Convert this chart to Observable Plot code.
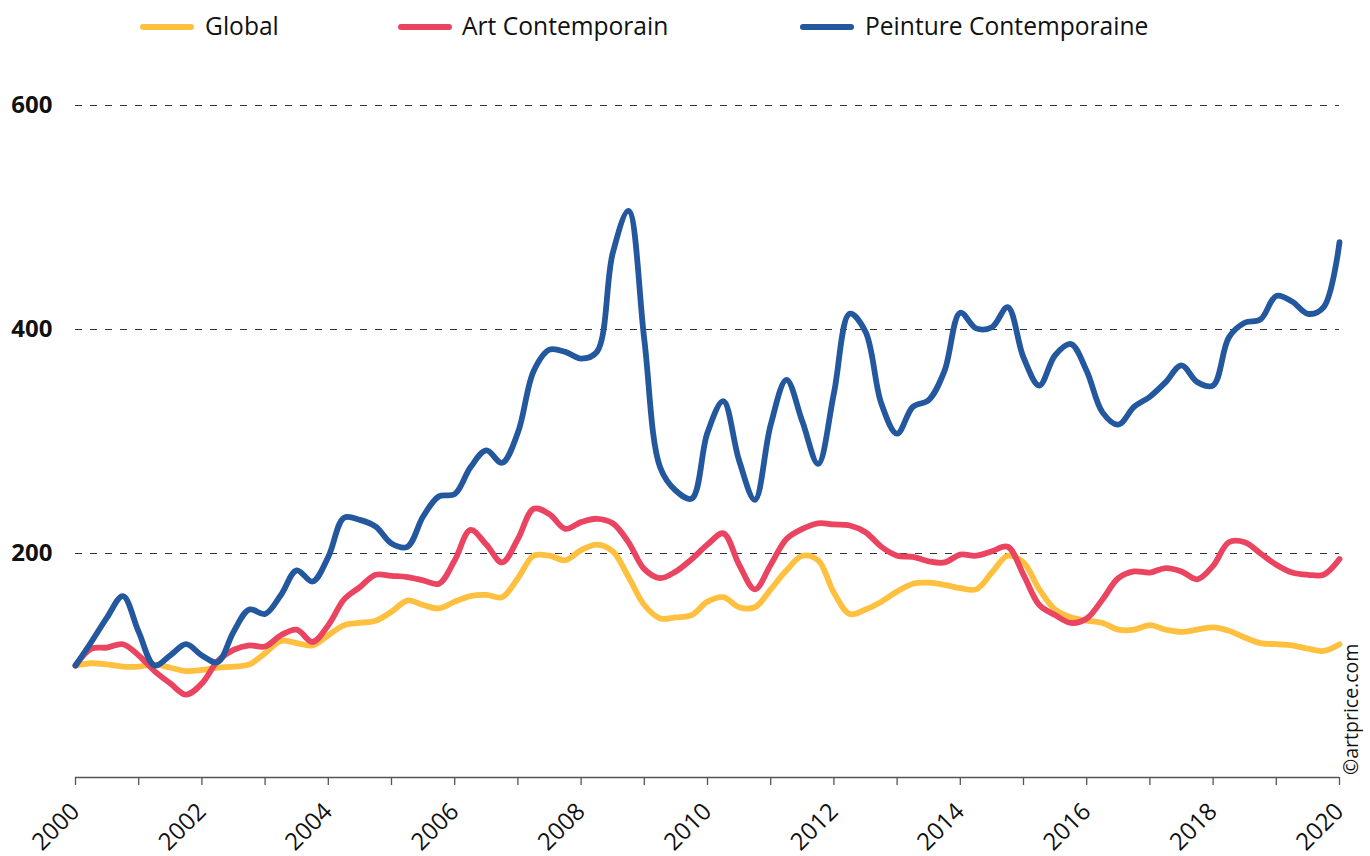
<!DOCTYPE html>
<html>
<head>
<meta charset="utf-8">
<script src="https://cdn.jsdelivr.net/npm/d3@7"></script>
<script src="https://cdn.jsdelivr.net/npm/@observablehq/plot@0.6"></script>
<style>
  html, body { margin: 0; padding: 0; background: #fff; }
  body { font-family: "Open Sans", sans-serif; width: 1370px; height: 856px; overflow: hidden; }
  #legend { position: relative; height: 55px; width: 1370px; }
  .sw { position: absolute; top: 24px; height: 6px; width: 54px; border-radius: 3px; }
  .lb { position: absolute; top: 12px; font-size: 24.6px; line-height: 28px; color: #111; white-space: nowrap; }
</style>
</head>
<body>
<div id="legend"></div>
<div id="chart"></div>
<script>
// ---- data (quarterly index values, base 100 = Q1 2000) ----
const seriesNames = ["Global", "Art Contemporain", "Peinture Contemporaine"];
const seriesColors = ["#FEC03E", "#EA4460", "#23579E"];

const globalIdx = [100,102,101,99,99,101,98,95,96,98,
  99,101,111,122,120,118,127,136,138,140,
  148,158,154,151,157,162,163,161,178,198,
  198,194,203,208,202,179,154,142,143,145,
  157,161,152,152,168,185,198,194,165,146,
  150,157,166,173,174,172,169,168,183,198,
  192,168,150,143,140,138,132,132,136,132,
  130,132,134,131,125,120,119,118,115,113,
  119];

const artContemporain = [100,115,116,119,109,95,84,74,84,104,
  114,118,117,127,132,121,136,159,170,181,
  180,179,176,173,194,221,208,192,213,240,
  235,222,228,231,227,210,186,178,184,195,
  208,218,190,168,190,213,222,227,226,225,
  219,206,198,197,193,192,199,198,202,206,
  181,154,145,138,142,159,178,184,183,187,
  184,177,189,210,210,200,190,183,181,181,
  195];

const peintureContemporaine = [100,121,143,162,130,100,109,119,109,103,
  130,150,146,163,185,175,197,232,230,224,
  209,206,233,251,253,277,292,281,308,363,
  382,380,374,380,468,506,391,277,256,249,
  308,336,283,248,315,355,318,280,343,414,
  398,334,307,331,337,363,415,401,402,420,
  375,350,377,387,363,326,315,331,340,353,
  368,353,350,393,406,409,430,425,414,420,
  478];

const startYear = 2000;
const endYear = 2020;
const tickYears = d3.range(2000, 2021);
const labelYears = d3.range(2000, 2021, 2);
const yTicks = [200, 400, 600];
const caption = "©artprice.com";

// ---- build table ----
const table = [];
[globalIdx, artContemporain, peintureContemporaine].forEach((arr, s) => {
  arr.forEach((v, i) => table.push({series: seriesNames[s], t: startYear + i / 4, v}));
});

// ---- legend ----
const legendPos = [[140, 205], [398, 462], [800, 865]];
const legend = document.getElementById("legend");
seriesNames.forEach((name, i) => {
  const sw = document.createElement("div");
  sw.className = "sw";
  sw.style.left = legendPos[i][0] + "px";
  sw.style.background = seriesColors[i];
  legend.appendChild(sw);
  const lb = document.createElement("div");
  lb.className = "lb";
  lb.style.left = legendPos[i][1] + "px";
  lb.textContent = name;
  legend.appendChild(lb);
});

// ---- chart ----
const chart = Plot.plot({
  width: 1370,
  height: 801,
  marginLeft: 75,
  marginRight: 31,
  marginTop: 50,
  marginBottom: 79,
  style: {fontFamily: "Open Sans, sans-serif", fontSize: "24px", color: "#111", background: "#fff", overflow: "visible"},
  x: {domain: [startYear, endYear], label: null},
  y: {domain: [0, 600], label: null},
  color: {domain: seriesNames, range: seriesColors},
  marks: [
    Plot.ruleY(yTicks, {stroke: "#333", strokeWidth: 1, strokeDasharray: "7,8"}),
    Plot.ruleY([0], {stroke: "#555", strokeWidth: 1.3}),
    Plot.axisX({ticks: tickYears, tickSize: 8, stroke: "#555", strokeWidth: 1.3, tickFormat: () => "", label: null}),
    Plot.axisX({ticks: labelYears, tickSize: 0, tickPadding: 30, tickRotate: -45, textAnchor: "end", lineAnchor: "middle", tickFormat: d => String(d), fontSize: 24, label: null}),
    Plot.axisY({ticks: yTicks, tickSize: 0, tickPadding: 23, fontWeight: "bold", fontSize: 24, tickFormat: d => String(d), label: null}),
    Plot.line(table, {x: "t", y: "v", z: "series", stroke: "series", strokeWidth: 5.8, curve: "catmull-rom", strokeLinecap: "round", strokeLinejoin: "round"})
  ]
});
document.getElementById("chart").appendChild(chart);

d3.select(chart).append("text")
  .attr("transform", "translate(1358,720) rotate(-90)")
  .attr("text-anchor", "start")
  .attr("font-size", 19.5)
  .attr("fill", "#111")
  .attr("font-family", "Open Sans, sans-serif")
  .text(caption);
</script>
</body>
</html>
